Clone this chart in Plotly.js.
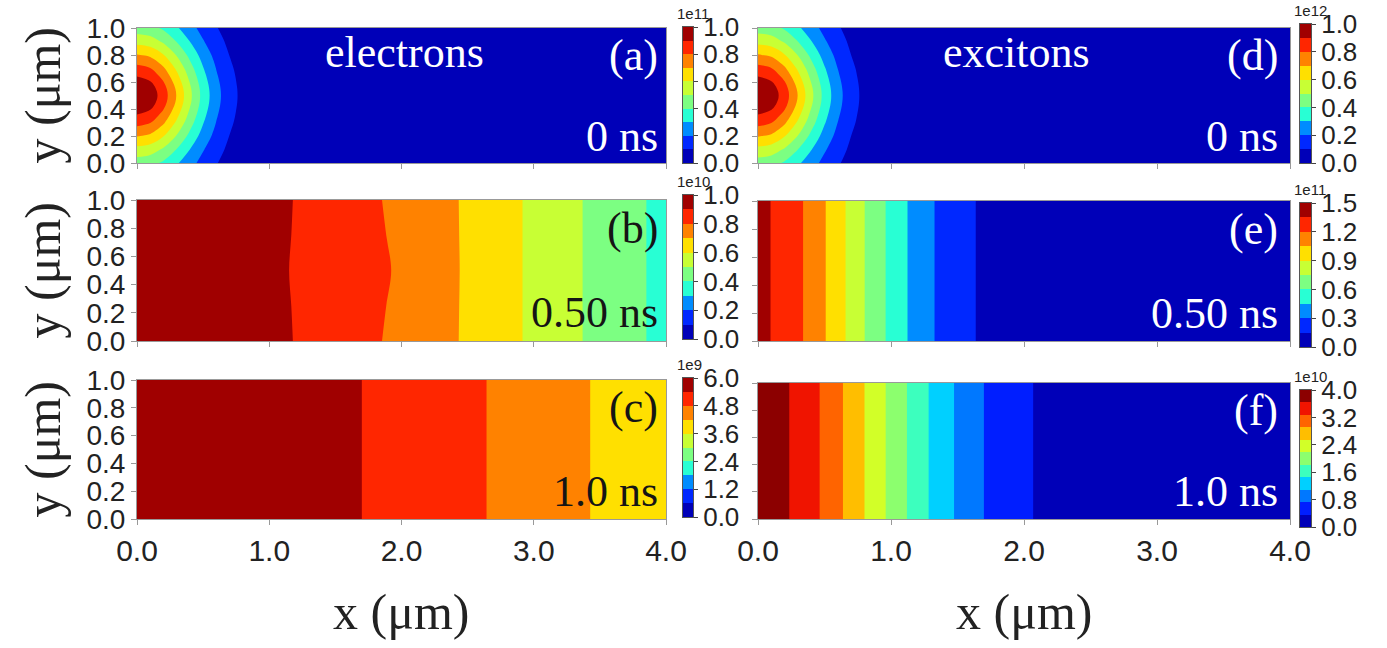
<!DOCTYPE html>
<html>
<head>
<meta charset="utf-8">
<script src="https://cdn.plot.ly/plotly-3.0.1.min.js"></script>
<style>html,body{margin:0;padding:0;background:#fff;}#chart{width:1387px;height:648px;}</style>
</head>
<body>
<div id="chart"></div>
<script>
// ---------------- DATA ----------------
const speciesLabels = ['electrons', 'excitons'];
const panelLabels = ['(a)', '(b)', '(c)', '(d)', '(e)', '(f)'];
const timeLabels = ['0 ns', '0.50 ns', '1.0 ns', '0 ns', '0.50 ns', '1.0 ns'];
const xTickVals = [0, 1, 2, 3, 4];
const xTickText = ['0.0', '1.0', '2.0', '3.0', '4.0'];
const yTickVals = [0, 0.2, 0.4, 0.6, 0.8, 1.0];
const yTickText = ['0.0', '0.2', '0.4', '0.6', '0.8', '1.0'];
const cbarExponents = ['1e11', '1e10', '1e9', '1e12', '1e11', '1e10'];
const cbarMax = [1.0, 1.0, 6.0, 1.0, 1.5, 4.0];
const cbarBands = [10, 10, 10, 10, 10, 11];
const cbarTicks = [
  [0, 0.2, 0.4, 0.6, 0.8, 1.0],
  [0, 0.2, 0.4, 0.6, 0.8, 1.0],
  [0, 1.2, 2.4, 3.6, 4.8, 6.0],
  [0, 0.2, 0.4, 0.6, 0.8, 1.0],
  [0, 0.3, 0.6, 0.9, 1.2, 1.5],
  [0, 0.8, 1.6, 2.4, 3.2, 4.0]
];

// (a) electrons, 0 ns  (units 1e11)
const spotX = [0, 0.1, 0.2, 0.3, 0.4, 0.5, 0.6, 0.7, 0.8, 0.9, 1.0, 1.5, 2.0, 4.0];
const spotY = [0, 0.1, 0.2, 0.3, 0.35, 0.4, 0.45, 0.5, 0.55, 0.6, 0.65, 0.7, 0.8, 0.9, 1.0];
const electrons0Z = [
  [0.448, 0.432, 0.383, 0.313, 0.236, 0.164, 0.105, 0.062, 0.034, 0.017, 0.008, 0, 0, 0],
  [0.567, 0.547, 0.485, 0.396, 0.299, 0.207, 0.133, 0.079, 0.043, 0.022, 0.010, 0.001, 0, 0],
  [0.706, 0.682, 0.604, 0.493, 0.372, 0.258, 0.166, 0.098, 0.053, 0.027, 0.013, 0.001, 0, 0],
  [0.836, 0.806, 0.715, 0.584, 0.440, 0.306, 0.197, 0.116, 0.063, 0.032, 0.015, 0.001, 0, 0],
  [0.891, 0.859, 0.762, 0.622, 0.469, 0.326, 0.209, 0.124, 0.067, 0.034, 0.016, 0.001, 0, 0],
  [0.940, 0.907, 0.804, 0.657, 0.495, 0.344, 0.221, 0.130, 0.071, 0.036, 0.017, 0.001, 0, 0],
  [0.980, 0.946, 0.838, 0.685, 0.516, 0.359, 0.230, 0.136, 0.074, 0.037, 0.018, 0.001, 0, 0],
  [0.995, 0.960, 0.851, 0.695, 0.524, 0.364, 0.234, 0.138, 0.075, 0.038, 0.018, 0.001, 0, 0],
  [0.980, 0.946, 0.838, 0.685, 0.516, 0.359, 0.230, 0.136, 0.074, 0.037, 0.018, 0.001, 0, 0],
  [0.940, 0.907, 0.804, 0.657, 0.495, 0.344, 0.221, 0.130, 0.071, 0.036, 0.017, 0.001, 0, 0],
  [0.891, 0.859, 0.762, 0.622, 0.469, 0.326, 0.209, 0.124, 0.067, 0.034, 0.016, 0.001, 0, 0],
  [0.836, 0.806, 0.715, 0.584, 0.440, 0.306, 0.197, 0.116, 0.063, 0.032, 0.015, 0.001, 0, 0],
  [0.706, 0.682, 0.604, 0.493, 0.372, 0.258, 0.166, 0.098, 0.053, 0.027, 0.013, 0.001, 0, 0],
  [0.567, 0.547, 0.485, 0.396, 0.299, 0.207, 0.133, 0.079, 0.043, 0.022, 0.010, 0.001, 0, 0],
  [0.448, 0.432, 0.383, 0.313, 0.236, 0.164, 0.105, 0.062, 0.034, 0.017, 0.008, 0, 0, 0]
];
// (d) excitons, 0 ns  (units 1e12)
const excitons0Z = [
  [0.452, 0.436, 0.387, 0.318, 0.242, 0.170, 0.110, 0.066, 0.036, 0.018, 0.008, 0, 0, 0],
  [0.570, 0.550, 0.488, 0.400, 0.304, 0.212, 0.138, 0.082, 0.045, 0.023, 0.010, 0.001, 0, 0],
  [0.707, 0.683, 0.606, 0.496, 0.375, 0.261, 0.169, 0.100, 0.055, 0.028, 0.013, 0.001, 0, 0],
  [0.836, 0.806, 0.716, 0.586, 0.443, 0.309, 0.199, 0.118, 0.064, 0.033, 0.015, 0.001, 0, 0],
  [0.891, 0.859, 0.763, 0.624, 0.471, 0.328, 0.211, 0.125, 0.068, 0.035, 0.016, 0.001, 0, 0],
  [0.940, 0.907, 0.805, 0.659, 0.497, 0.346, 0.223, 0.132, 0.072, 0.037, 0.017, 0.001, 0, 0],
  [0.980, 0.946, 0.839, 0.686, 0.518, 0.361, 0.232, 0.137, 0.075, 0.038, 0.018, 0.001, 0, 0],
  [0.995, 0.960, 0.852, 0.697, 0.526, 0.366, 0.236, 0.139, 0.076, 0.039, 0.018, 0.001, 0, 0],
  [0.980, 0.946, 0.839, 0.686, 0.518, 0.361, 0.232, 0.137, 0.075, 0.038, 0.018, 0.001, 0, 0],
  [0.940, 0.907, 0.805, 0.659, 0.497, 0.346, 0.223, 0.132, 0.072, 0.037, 0.017, 0.001, 0, 0],
  [0.891, 0.859, 0.763, 0.624, 0.471, 0.328, 0.211, 0.125, 0.068, 0.035, 0.016, 0.001, 0, 0],
  [0.836, 0.806, 0.716, 0.586, 0.443, 0.309, 0.199, 0.118, 0.064, 0.033, 0.015, 0.001, 0, 0],
  [0.707, 0.683, 0.606, 0.496, 0.375, 0.261, 0.169, 0.100, 0.055, 0.028, 0.013, 0.001, 0, 0],
  [0.570, 0.550, 0.488, 0.400, 0.304, 0.212, 0.138, 0.082, 0.045, 0.023, 0.010, 0.001, 0, 0],
  [0.452, 0.436, 0.387, 0.318, 0.242, 0.170, 0.110, 0.066, 0.036, 0.018, 0.008, 0, 0, 0]
];

// (b) electrons, 0.50 ns (units 1e10)
const electrons050X = [0, 0.5, 1.0, 1.5, 2.0, 2.5, 3.0, 3.5, 4.0];
const electrons050Y = [0, 0.25, 0.5, 0.75, 1.0];
const electrons050Z = [
  [0.995, 0.975, 0.925, 0.855, 0.777, 0.688, 0.582, 0.471, 0.370],
  [0.995, 0.975, 0.920, 0.860, 0.782, 0.688, 0.582, 0.471, 0.370],
  [0.995, 0.975, 0.915, 0.865, 0.788, 0.688, 0.582, 0.471, 0.370],
  [0.995, 0.975, 0.920, 0.860, 0.782, 0.688, 0.582, 0.471, 0.370],
  [0.995, 0.975, 0.925, 0.855, 0.777, 0.688, 0.582, 0.471, 0.370]
];
// (c) electrons, 1.0 ns (units 1e9)
const electrons10X = [0, 0.5, 1.0, 1.5, 2.0, 2.5, 3.0, 3.5, 4.0];
const electrons10Y = [0, 1.0];
const electrons10Z = [
  [5.95, 5.90, 5.76, 5.54, 5.19, 4.90, 4.55, 4.14, 3.75],
  [5.95, 5.90, 5.76, 5.54, 5.19, 4.90, 4.55, 4.14, 3.75]
];
// (e) excitons, 0.50 ns (units 1e11)
const excitons050X = [0, 0.1, 0.2, 0.3, 0.4, 0.5, 0.6, 0.7, 0.8, 0.9, 1.0, 1.1, 1.2, 1.3, 1.4, 1.5, 1.6, 1.7, 1.8, 1.9, 2.0, 2.5, 3.0, 3.5, 4.0];
const excitons050Y = [0, 1.0];
const excitons050Row = [1.43, 1.345, 1.29, 1.23, 1.153, 1.059, 0.96, 0.857, 0.752, 0.656, 0.562, 0.469, 0.39, 0.315, 0.26, 0.21, 0.16, 0.133, 0.112, 0.09, 0.07, 0.03, 0.012, 0.005, 0.002];
// (f) excitons, 1.0 ns (units 1e10)
const excitons10X = [0, 0.1, 0.2, 0.3, 0.4, 0.5, 0.6, 0.7, 0.8, 0.9, 1.0, 1.1, 1.2, 1.3, 1.4, 1.5, 1.6, 1.7, 1.8, 1.9, 2.0, 2.1, 2.2, 2.5, 3.0, 3.5, 4.0];
const excitons10Y = [0, 1.0];
const excitons10Row = [3.95, 3.819, 3.688, 3.541, 3.383, 3.209, 2.995, 2.773, 2.547, 2.318, 2.091, 1.863, 1.637, 1.417, 1.225, 1.044, 0.885, 0.725, 0.623, 0.52, 0.416, 0.34, 0.293, 0.15, 0.06, 0.025, 0.01];

// ---------------- STYLE / LAYOUT ----------------
const palette10 = ['#0000b8', '#0028ff', '#008cff', '#28ffd4', '#7cff82', '#c8ff34', '#ffe000', '#ff8200', '#ff2600', '#a00000'];
const palette11 = ['#0000b8', '#001eff', '#0078ff', '#00d0ff', '#3cffbe', '#8cff6e', '#d2ff28', '#ffbe00', '#ff6400', '#f01400', '#8c0000'];

const W = 1387, H = 648;
const fx = p => p / W;
const fy = p => 1 - p / H;
// panel boxes in px [left, right, top, bottom]
const panelBox = [
  [137, 666, 28, 163], [137, 666, 200, 341], [137, 666, 380, 519],
  [758, 1290, 28, 163], [758, 1290, 201, 341], [758, 1290, 383, 519]
];
const cbarBox = [
  [683, 693, 27, 163], [683, 693, 195, 339], [683, 693, 378, 517],
  [1300, 1311, 24, 163], [1300, 1311, 203, 347], [1300, 1311, 390, 527]
];

function bandScale(n) {
  const pal = n === 11 ? palette11 : palette10;
  const cs = [];
  for (let j = 0; j < n; j++) cs.push([j / (n - 1), pal[j]]);
  return cs;
}

const panelData = [
  {x: spotX, y: spotY, z: electrons0Z},
  {x: electrons050X, y: electrons050Y, z: electrons050Z},
  {x: electrons10X, y: electrons10Y, z: electrons10Z},
  {x: spotX, y: spotY, z: excitons0Z},
  {x: excitons050X, y: excitons050Y, z: excitons050Y.map(() => excitons050Row)},
  {x: excitons10X, y: excitons10Y, z: excitons10Y.map(() => excitons10Row)}
];

const traces = [];
const layout = {
  width: W, height: H,
  margin: {l: 0, r: 0, t: 0, b: 0},
  paper_bgcolor: '#ffffff', plot_bgcolor: '#ffffff',
  showlegend: false,
  annotations: []
};
const sans = 'Liberation Sans, Arial, sans-serif';
const xTickFont = {family: sans, size: 30, color: '#222'};
const yTickFont = {family: sans, size: 28, color: '#222'};
const cbFont = {family: sans, size: 26, color: '#222'};
const serif = 'Liberation Serif, Times New Roman, serif';

for (let i = 0; i < 6; i++) {
  const n = cbarBands[i];
  const step = cbarMax[i] / n;
  const scale = bandScale(n);
  const ax = i + 1;
  const d = panelData[i];
  traces.push({
    type: 'contour', x: d.x, y: d.y, z: d.z,
    xaxis: 'x' + ax, yaxis: 'y' + ax,
    colorscale: scale, showscale: false,
    contours: {start: step, end: cbarMax[i] - step, size: step, coloring: 'fill', showlines: false},
    line: {width: 0}, hoverinfo: 'skip'
  });
  const pb = panelBox[i];
  const bottomRow = (i % 3) === 2;
  layout['xaxis' + ax] = {
    domain: [fx(pb[0]), fx(pb[1])], anchor: 'y' + ax, range: [0, 4],
    tickvals: xTickVals, ticktext: xTickText, showticklabels: bottomRow,
    ticks: 'outside', ticklen: 5, tickcolor: '#999', tickwidth: 1,
    showline: true, linecolor: '#999', linewidth: 1, mirror: true,
    showgrid: false, zeroline: false, tickfont: xTickFont, fixedrange: true
  };
  layout['yaxis' + ax] = {
    domain: [fy(pb[3]), fy(pb[2])], anchor: 'x' + ax, range: [0, 1],
    tickvals: yTickVals, ticktext: yTickText, showticklabels: i < 3,
    ticks: 'outside', ticklen: 5, tickcolor: '#999', tickwidth: 1,
    showline: true, linecolor: '#999', linewidth: 1, mirror: true,
    showgrid: false, zeroline: false, tickfont: yTickFont, fixedrange: true
  };

  // colorbar as heatmap
  const edges = [], idx = [];
  for (let j = 0; j <= n; j++) edges.push(j * step);
  for (let j = 0; j < n; j++) idx.push([j]);
  const cax = i + 7;
  traces.push({
    type: 'heatmap', x: [0, 1], y: edges, z: idx, zmin: 0, zmax: n - 1,
    colorscale: scale, showscale: false, hoverinfo: 'skip',
    xaxis: 'x' + cax, yaxis: 'y' + cax
  });
  const cb = cbarBox[i];
  layout['xaxis' + cax] = {
    domain: [fx(cb[0]), fx(cb[1])], anchor: 'y' + cax, range: [0, 1],
    showticklabels: false, ticks: '', showline: true, linecolor: '#555', linewidth: 1, mirror: true,
    showgrid: false, zeroline: false, fixedrange: true
  };
  layout['yaxis' + cax] = {
    domain: [fy(cb[3]), fy(cb[2])], anchor: 'x' + cax, range: [0, cbarMax[i]], side: 'right',
    tickvals: cbarTicks[i], ticktext: cbarTicks[i].map(v => v.toFixed(1)),
    ticks: 'outside', ticklen: 4, tickcolor: '#444', tickwidth: 1,
    showline: true, linecolor: '#555', linewidth: 1, mirror: true,
    showgrid: false, zeroline: false, tickfont: cbFont, fixedrange: true
  };
  layout.annotations.push({
    text: cbarExponents[i], xref: 'paper', yref: 'paper',
    x: fx(cb[0] - 8), y: fy(cb[2] - 3), xanchor: 'left', yanchor: 'bottom',
    showarrow: false, font: {family: sans, size: 15, color: '#222'}
  });

  // in-panel labels
  const dark = (i === 1 || i === 2);
  const col = dark ? '#151515' : '#ffffff';
  const rx = pb[1] - (i < 3 ? 6 : 10);
  const ph = pb[3] - pb[2];
  layout.annotations.push({
    text: panelLabels[i], xref: 'paper', yref: 'paper',
    x: fx(rx), y: fy(pb[2] + ph * 0.2), xanchor: 'right', yanchor: 'middle',
    showarrow: false, font: {family: serif, size: 44, color: col}
  });
  layout.annotations.push({
    text: timeLabels[i], xref: 'paper', yref: 'paper',
    x: fx(rx), y: fy(pb[2] + ph * 0.8), xanchor: 'right', yanchor: 'middle',
    showarrow: false, font: {family: serif, size: 44, color: col}
  });
}
// species labels
layout.annotations.push({
  text: speciesLabels[0], xref: 'paper', yref: 'paper', x: fx(404), y: fy(52),
  xanchor: 'center', yanchor: 'middle', showarrow: false,
  font: {family: serif, size: 44, color: '#ffffff'}
});
layout.annotations.push({
  text: speciesLabels[1], xref: 'paper', yref: 'paper', x: fx(1016), y: fy(52),
  xanchor: 'center', yanchor: 'middle', showarrow: false,
  font: {family: serif, size: 44, color: '#ffffff'}
});
// axis titles
[0, 1, 2].forEach(r => {
  const pb = panelBox[r];
  layout.annotations.push({
    text: 'y (μm)', xref: 'paper', yref: 'paper', x: fx(42), y: fy((pb[2] + pb[3]) / 2),
    xanchor: 'center', yanchor: 'middle', textangle: -90, showarrow: false,
    font: {family: serif, size: 50, color: '#222'}
  });
});
[0, 3].forEach(c => {
  const pb = panelBox[c];
  layout.annotations.push({
    text: 'x (μm)', xref: 'paper', yref: 'paper', x: fx((pb[0] + pb[1]) / 2), y: fy(612),
    xanchor: 'center', yanchor: 'middle', showarrow: false,
    font: {family: serif, size: 50, color: '#222'}
  });
});

Plotly.newPlot('chart', traces, layout, {staticPlot: true, displayModeBar: false});
</script>
</body>
</html>
